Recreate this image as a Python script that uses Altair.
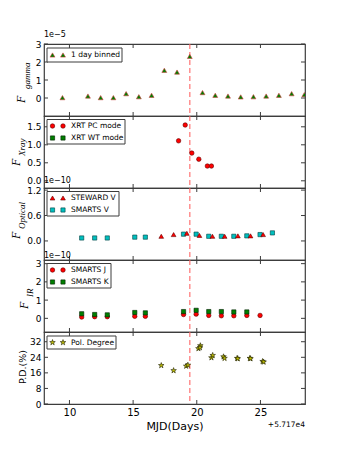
import altair as alt
import pandas as pd

# ---------------- data ----------------
x_ticks = [10, 15, 20, 25]
flare_mjd = [19.45]

gamma_x = [9.45, 11.45, 12.45, 13.45, 14.45, 15.45, 16.45, 17.45, 18.45, 19.45,
           20.45, 21.45, 22.45, 23.45, 24.45, 25.45, 26.45, 27.45, 28.45]
gamma_y = [0.02, 0.11, 0.02, 0.02, 0.24, 0.07, 0.15, 1.54, 1.44, 2.31,
           0.30, 0.15, 0.11, 0.06, 0.07, 0.11, 0.15, 0.24, 0.19]

xrt_pc_x = [18.57, 19.09, 19.61, 20.16, 20.83, 21.15]
xrt_pc_y = [1.11, 1.55, 0.77, 0.60, 0.41, 0.41]
xrt_wt_x = []
xrt_wt_y = []

steward_v_x = [17.21, 18.18, 19.22, 20.21, 21.23, 22.19, 23.23, 24.22, 25.21]
steward_v_y = [0.11, 0.15, 0.18, 0.13, 0.11, 0.11, 0.12, 0.12, 0.15]
smarts_v_x = [10.96, 11.98, 12.97, 15.13, 15.96, 18.96, 19.95, 20.94, 21.93,
              22.91, 23.93, 24.97, 25.94]
smarts_v_y = [0.07, 0.07, 0.07, 0.09, 0.09, 0.16, 0.16, 0.11, 0.11,
              0.11, 0.12, 0.15, 0.19]

smarts_j_x = [10.96, 11.98, 12.97, 15.13, 15.96, 18.96, 19.95, 20.94, 21.93,
              22.91, 23.93, 24.97]
smarts_j_y = [0.07, 0.09, 0.09, 0.11, 0.11, 0.21, 0.23, 0.16, 0.14,
              0.14, 0.16, 0.16]
smarts_k_x = [10.96, 11.98, 12.97, 15.13, 15.96, 18.96, 19.95, 20.94, 21.93,
              22.91, 23.93]
smarts_k_y = [0.25, 0.21, 0.19, 0.32, 0.30, 0.37, 0.44, 0.37, 0.37,
              0.35, 0.35]

pd_x = [17.21, 18.18, 19.17, 19.30, 20.13, 20.28, 20.25, 21.15, 21.25,
        22.10, 22.18, 23.17, 23.22, 24.17, 24.22, 25.17, 25.25]
pd_y = [19.8, 17.2, 19.5, 20.0, 28.5, 30.0, 29.0, 23.8, 25.0,
        24.3, 23.5, 23.5, 23.3, 23.5, 23.3, 21.9, 21.6]

# ---------------- style ----------------
W = 261
H = 72
XDOM = [8, 28.5]
FRAME = "#3c3c3c"
RED = "#ff0000"
GREEN = "#007f00"
CYAN = "#00bfbf"
YELLOW = "#bfbf00"
DASH = "#ff6060"
STAR = ("M0,-1L0.2245,-0.309L0.951,-0.309L0.363,0.118L0.588,0.809L0,0.382"
        "L-0.588,0.809L-0.363,0.118L-0.951,-0.309L-0.2245,-0.309Z")

xs = alt.Scale(domain=XDOM, nice=False, zero=False)
one = pd.DataFrame({"a": [0]})


def xchan(field, show):
    if show:
        ax = alt.Axis(values=x_ticks, format="d", title="MJD(Days)", ticks=False,
                      domain=False, grid=False, labelFontSize=10, labelPadding=3,
                      labelFont="DejaVu Sans", labelColor="black", labelFlush=False,
                      titleFontSize=11, titleFont="DejaVu Sans", titleColor="black",
                      titleFontWeight="normal", titlePadding=3)
    else:
        ax = None
    return alt.X(f"{field}:Q", scale=xs, axis=ax)


def ychan(field, dom, vals, fmt):
    return alt.Y(f"{field}:Q", scale=alt.Scale(domain=dom, nice=False, zero=False),
                 axis=alt.Axis(values=vals, format=fmt, title=None, ticks=False,
                               domain=False, grid=False, labelFontSize=9,
                               labelPadding=3, labelFont="DejaVu Sans",
                               labelColor="black", labelOverlap=False,
                               labelFlush=False, labelBound=False))


def sym(shape, fill, stroke, size):
    return dict(shape=shape, filled=True, fill=fill, stroke=stroke,
                strokeWidth=0.6, size=size, opacity=1)


def panel(series, ydom, yvals, yfmt, legend, texts, show_x=False):
    layers = []
    Y = lambda f: ychan(f, ydom, yvals, yfmt)
    X = lambda f: xchan(f, show_x)
    # frame ticks (inside, on all four sides)
    tx = pd.DataFrame({"x": x_ticks})
    ty = pd.DataFrame({"y": yvals})
    layers.append(alt.Chart(tx).mark_rule(color=FRAME, strokeWidth=1).encode(
        x=X("x"), y=alt.value(0), y2=alt.value(4)))
    layers.append(alt.Chart(tx).mark_rule(color=FRAME, strokeWidth=1).encode(
        x=X("x"), y=alt.value(H - 4), y2=alt.value(H)))
    layers.append(alt.Chart(ty).mark_rule(color=FRAME, strokeWidth=1).encode(
        y=Y("y"), x=alt.value(0), x2=alt.value(4)))
    layers.append(alt.Chart(ty).mark_rule(color=FRAME, strokeWidth=1).encode(
        y=Y("y"), x=alt.value(W - 4), x2=alt.value(W)))
    # flare date
    layers.append(alt.Chart(pd.DataFrame({"x": flare_mjd})).mark_rule(
        color=DASH, strokeDash=[5, 3], strokeWidth=1.5, opacity=0.7).encode(x=X("x")))
    # data
    for xv, yv, st in series:
        if not xv:
            continue
        df = pd.DataFrame({"x": xv, "y": yv})
        layers.append(alt.Chart(df).mark_point(clip=True, **st).encode(
            x=X("x"), y=Y("y")))
    # legend
    top, bottom, width, rows = legend
    layers.append(alt.Chart(one).mark_rect(fill="white", stroke=FRAME, strokeWidth=1).encode(
        x=alt.value(3), x2=alt.value(3 + width), y=alt.value(top), y2=alt.value(bottom)))
    for ry, label, st in rows:
        for sx in (8.5, 19):
            layers.append(alt.Chart(one).mark_point(**st).encode(
                x=alt.value(sx), y=alt.value(ry)))
        layers.append(alt.Chart(one).mark_text(
            text=label, align="left", baseline="middle", fontSize=7.5,
            font="DejaVu Sans", color="black").encode(x=alt.value(27), y=alt.value(ry)))
    # free texts (axis label pieces, offset texts)
    for t in texts:
        txt, tx_, ty_, kw = t
        layers.append(alt.Chart(one).mark_text(text=txt, color="black", **kw).encode(
            x=alt.value(tx_), y=alt.value(ty_)))
    return alt.layer(*layers).properties(width=W, height=H)


def flabel(sub, fx, fy, sy):
    base = dict(angle=270, align="left", baseline="alphabetic",
                font="Liberation Serif", fontStyle="italic")
    return [("F", fx, fy, dict(fontSize=12, **base)),
            (sub, fx + 5, sy, dict(fontSize=9, **base))]


off = dict(align="left", baseline="alphabetic", font="DejaVu Sans", fontSize=8)

tri_g = sym("triangle-up", GREEN, "#d04040", 24)
p1 = panel(
    [(gamma_x, gamma_y, tri_g)],
    [-1, 3], [0, 1, 2, 3], "d",
    (4, 18, 75, [(11, "1 day binned", tri_g)]),
    flabel("gamma", -19, 59, 45) + [("1e\u22125", 0, -7, off)],
)

circ_r = sym("circle", RED, "#600000", 20)
sq_g = sym("square", GREEN, "#002000", 18)
p2 = panel(
    [(xrt_pc_x, xrt_pc_y, circ_r), (xrt_wt_x, xrt_wt_y, sq_g)],
    [-0.2, 1.8], [0.0, 0.5, 1.0, 1.5], ".1f",
    (3.5, 28, 78, [(10, "XRT PC mode", circ_r), (22, "XRT WT mode", sq_g)]),
    flabel("Xray", -24.5, 50, 40),
)

tri_r = sym("triangle-up", RED, "#600000", 22)
sq_c = sym("square", CYAN, "#004040", 18)
p3 = panel(
    [(smarts_v_x, smarts_v_y, sq_c), (steward_v_x, steward_v_y, tri_r)],
    [-0.45, 1.25], [0.0, 0.6, 1.2], ".1f",
    (3.5, 28, 72, [(10, "STEWARD V", tri_r), (22, "SMARTS V", sq_c)]),
    flabel("Optical", -24.5, 51, 41) + [("1e\u221210", 0, -5, off)],
)

p4 = panel(
    [(smarts_j_x, smarts_j_y, circ_r), (smarts_k_x, smarts_k_y, sq_g)],
    [-0.75, 3.2], [0, 1, 2, 3], "d",
    (3.5, 28, 64, [(10, "SMARTS J", circ_r), (22, "SMARTS K", sq_g)]),
    flabel("IR", -16, 49, 37) + [("1e\u221210", 0, -2, off)],
)

star_y = sym(STAR, YELLOW, "#202000", 34)
p5 = panel(
    [(pd_x, pd_y, star_y)],
    [0, 37], [0, 8, 16, 24, 32], "d",
    (4, 17, 69, [(10.5, "Pol. Degree", star_y)]),
    [("P.D.(%)", -18, 35, dict(angle=270, align="center", baseline="alphabetic",
                               font="DejaVu Sans", fontSize=9.5)),
     ("+5.717e4", W, H + 23, dict(align="right", baseline="alphabetic",
                                  font="DejaVu Sans", fontSize=7.5))],
    show_x=True,
)

chart = alt.vconcat(p1, p2, p3, p4, p5, spacing=0, bounds="flush").properties(
    padding={"left": 0, "top": 22, "right": 5, "bottom": 5}
).configure_view(stroke=FRAME, strokeWidth=1.2)

chart.save("out.html", embed_options={"renderer": "svg", "actions": False})
